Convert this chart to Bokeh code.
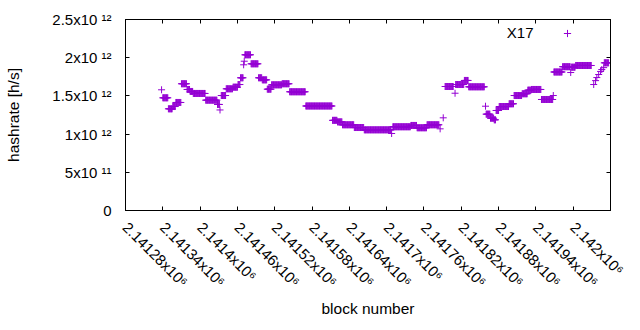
import math
import numpy as np
from bokeh.plotting import figure
from bokeh.models import (Range1d, FixedTicker, LinearAxis, Label, Legend,
                          LegendItem, ColumnDataSource, CustomLabelingPolicy)
from bokeh.embed import file_html
from bokeh.resources import INLINE

# ---------------- data ----------------
series_name = "X17"
# runs of blocks sharing the same hashrate estimate (single points: start == end)
run_start = [2141338, 2141340, 2141349, 2141356, 2141361, 2141370, 2141379, 2141384,
             2141389, 2141409, 2141428, 2141432, 2141434, 2141442, 2141453, 2141461,
             2141465, 2141470, 2141471, 2141472, 2141482, 2141494, 2141500, 2141508,
             2141515, 2141532, 2141544, 2141570, 2141613, 2141621, 2141629, 2141648,
             2141664, 2141708, 2141710, 2141739, 2141749, 2141765, 2141786, 2141791,
             2141794, 2141810, 2141811, 2141825, 2141832, 2141859, 2141860, 2141867,
             2141873, 2141876, 2141881, 2141897, 2141905, 2141918, 2141927, 2141933,
             2141949, 2141968, 2141969, 2141983, 2141996, 2141997, 2142004, 2142033,
             2142036, 2142038, 2142041, 2142044, 2142046, 2142049, 2142050]
run_end = [2141338, 2141348, 2141355, 2141360, 2141369, 2141378, 2141383, 2141388,
           2141408, 2141427, 2141431, 2141432, 2141441, 2141452, 2141460, 2141464,
           2141469, 2141470, 2141471, 2141481, 2141493, 2141499, 2141507, 2141514,
           2141531, 2141543, 2141569, 2141612, 2141620, 2141628, 2141647, 2141663,
           2141707, 2141708, 2141738, 2141748, 2141764, 2141784, 2141786, 2141791,
           2141807, 2141810, 2141824, 2141831, 2141857, 2141859, 2141866, 2141872,
           2141875, 2141880, 2141896, 2141904, 2141917, 2141926, 2141932, 2141948,
           2141967, 2141968, 2141982, 2141995, 2141996, 2142003, 2142029, 2142033,
           2142036, 2142038, 2142041, 2142044, 2142046, 2142049, 2142057]
run_hashrate = [1.580e12, 1.475e12, 1.331e12, 1.361e12, 1.414e12, 1.659e12, 1.584e12, 1.558e12,
                1.532e12, 1.444e12, 1.388e12, 1.316e12, 1.505e12, 1.593e12, 1.614e12, 1.649e12,
                1.737e12, 1.907e12, 1.954e12, 2.038e12, 1.920e12, 1.737e12, 1.710e12, 1.588e12,
                1.645e12, 1.659e12, 1.554e12, 1.368e12, 1.180e12, 1.160e12, 1.122e12, 1.086e12,
                1.056e12, 1.008e12, 1.096e12, 1.113e12, 1.083e12, 1.122e12, 1.069e12, 1.213e12,
                1.623e12, 1.535e12, 1.649e12, 1.702e12, 1.619e12, 1.365e12, 1.261e12, 1.208e12,
                1.187e12, 1.309e12, 1.361e12, 1.397e12, 1.505e12, 1.528e12, 1.575e12, 1.584e12,
                1.453e12, 1.505e12, 1.813e12, 1.882e12, 1.806e12, 1.876e12, 1.898e12, 1.649e12,
                1.700e12, 1.740e12, 1.780e12, 1.820e12, 1.845e12, 1.870e12, 1.933e12]

x_ticks = [2141280, 2141340, 2141400, 2141460, 2141520, 2141580, 2141640,
           2141700, 2141760, 2141820, 2141880, 2141940, 2142000, 2142060]
x_tick_labels = ["2.14128x10⁶", "2.14134x10⁶", "2.1414x10⁶", "2.14146x10⁶",
                 "2.14152x10⁶", "2.14158x10⁶", "2.14164x10⁶", "2.1417x10⁶",
                 "2.14176x10⁶", "2.14182x10⁶", "2.14188x10⁶", "2.14194x10⁶",
                 "2.142x10⁶", "2.14206x10⁶"]
y_ticks = [0, 5e11, 1e12, 1.5e12, 2e12, 2.5e12]
y_tick_labels = ["0", "5x10 ¹¹", "1x10 ¹²", "1.5x10 ¹²", "2x10 ¹²", "2.5x10 ¹²"]

x_label = "block number"
y_label = "hashrate [h/s]"

# ---------------- build ----------------
blocks = np.concatenate([np.arange(s, e + 1) for s, e in zip(run_start, run_end)])
rates = np.concatenate([np.full(e - s + 1, v) for s, e, v in zip(run_start, run_end, run_hashrate)])
src = ColumnDataSource(dict(block=blocks, hashrate=rates))

PURPLE = "#9400d3"
FONT = "Liberation Sans"
FS = "15px"

p = figure(width=632, height=322, output_backend="svg", toolbar_location=None,
           x_range=Range1d(x_ticks[0], x_ticks[-1]), y_range=Range1d(y_ticks[0], y_ticks[-1]),
           min_border_left=125, min_border_right=22, min_border_top=19, min_border_bottom=112)
p.grid.visible = False
p.outline_line_color = "black"
p.outline_line_alpha = 1
p.outline_line_width = 1
p.background_fill_color = "white"
p.border_fill_color = "white"

r = p.scatter("block", "hashrate", source=src, marker="cross", size=7,
              line_color=PURPLE, line_width=1)

def style_axis(ax):
    ax.major_tick_in = 4
    ax.major_tick_out = 0
    ax.minor_tick_line_color = None
    ax.major_tick_line_color = "black"
    ax.axis_line_color = "black"
    ax.major_label_text_font = FONT
    ax.major_label_text_font_size = FS
    ax.major_label_text_color = "black"
    ax.axis_label_text_font = FONT
    ax.axis_label_text_font_size = "15.5px"
    ax.axis_label_text_font_style = "normal"
    ax.axis_label_text_color = "black"

# the label of the right-most tick lies almost wholly beyond the window edge in the
# reference; the axis would pull it back on top of its neighbour, so it is left out
all_but_last = CustomLabelingPolicy(code="""
    const shown = [...indices]
    if (shown.length > 0) indices.unset(shown[shown.length - 1])
    return indices
""")

xa = p.xaxis[0]
xa.ticker = FixedTicker(ticks=x_ticks)
xa.major_label_overrides = dict(zip(x_ticks, x_tick_labels))
xa.major_label_orientation = -math.pi / 4
xa.major_label_policy = all_but_last
xa.axis_label = x_label
style_axis(xa)
xa.major_label_standoff = 14
xa.axis_label_standoff = 1

ya = p.yaxis[0]
ya.ticker = FixedTicker(ticks=y_ticks)
ya.major_label_overrides = dict(zip(y_ticks, y_tick_labels))
ya.axis_label = y_label
style_axis(ya)
ya.major_label_standoff = 14
ya.axis_label_standoff = 27

# mirrored tick marks on the top and right borders (no labels there)
no_labels = CustomLabelingPolicy(code="""
    const shown = [...indices]
    for (const i of shown) indices.unset(i)
    return indices
""")
top = LinearAxis(ticker=FixedTicker(ticks=x_ticks), major_label_policy=no_labels)
right = LinearAxis(ticker=FixedTicker(ticks=y_ticks), major_label_policy=no_labels)
for ax in (top, right):
    style_axis(ax)
    ax.major_label_text_font_size = "0px"
    ax.major_label_standoff = 0
p.add_layout(top, "above")
p.add_layout(right, "right")

# key: name text followed by the marker sample
p.add_layout(Label(x=408, y=178, x_units="screen", y_units="screen", text=series_name,
                   text_align="right", text_baseline="middle", text_font=FONT,
                   text_font_size=FS, text_color="black"))
legend = Legend(items=[LegendItem(label=" ", renderers=[r])], location="top_right",
                padding=5, margin=5, spacing=0, label_standoff=25,
                glyph_width=18, glyph_height=18, label_width=4, label_height=18,
                border_line_color=None, background_fill_alpha=0,
                label_text_font=FONT, label_text_font_size=FS)
p.add_layout(legend)

open("out.html", "w").write(file_html(p, INLINE))
